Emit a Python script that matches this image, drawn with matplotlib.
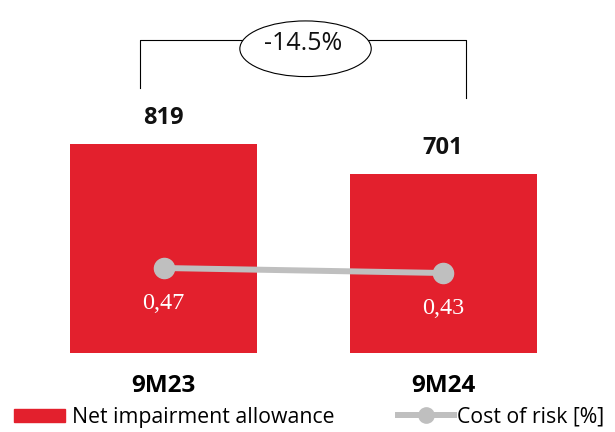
import numpy as np
import matplotlib.pyplot as plt
from matplotlib.patches import Ellipse, Patch
from matplotlib.lines import Line2D

periods = ['9M23', '9M24']
allowance = [819, 701]        # net impairment allowance
cost_of_risk = [0.47, 0.43]   # cost of risk [%]
change_label = '-14.5%'

RED = '#E3202D'
GRAY = '#BFBFBF'
SANS = 'Open Sans'

fig = plt.figure(figsize=(6.15, 4.32), dpi=100)
ax = fig.add_axes([0, 79 / 432, 1, 353 / 432])
x = np.arange(len(periods))

ax.bar(x, allowance, width=0.669, color=RED, zorder=1)
ax.set_xlim(-0.585, 1.615)
ax.set_ylim(0, 1383)
for s in ax.spines.values():
    s.set_visible(False)
ax.set_yticks([])
ax.set_xticks(x)
ax.set_xticklabels(periods, fontsize=17.5, fontweight='bold', family=SANS)
ax.tick_params(axis='x', length=0, pad=15)

for xi, v in zip(x, allowance):
    ax.annotate(str(v), (xi, v), xytext=(0, 18.5), textcoords='offset points',
                ha='center', va='center', fontsize=17, fontweight='bold',
                family=SANS, color='#111111')

# bracket with the change bubble
top = 1226
ax.plot([x[0] - 0.084, x[0] - 0.084, x[1] + 0.082, x[1] + 0.082],
        [allowance[0] + 219, top, top, allowance[1] + 298],
        color='black', lw=0.8, zorder=2)
ax.add_patch(Ellipse((0.508, 1192), 0.47, 218, facecolor='white',
                     edgecolor='black', lw=0.8, zorder=3))
ax.text(0.5, 1213, change_label, ha='center', va='center', fontsize=18,
        family=SANS, color='#111111', zorder=4)

ax2 = ax.twinx()
ax2.set_ylim(-0.21, 2.614)
ax2.axis('off')
ax2.plot(x, cost_of_risk, color=GRAY, lw=4.3, marker='o', ms=14.5,
         solid_capstyle='butt', zorder=5)
for xi, v in zip(x, cost_of_risk):
    ax2.annotate(f'{v:.2f}'.replace('.', ','), (xi, v), xytext=(0, -25.5),
                 textcoords='offset points', ha='center', va='center',
                 fontsize=17.5, family='Liberation Serif', color='white')

fig.legend(handles=[Patch(color=RED, label='Net impairment allowance')],
           loc='lower left', bbox_to_anchor=(10 / 615, 0.0),
           frameon=False, handlelength=2.4, handleheight=0.55,
           handletextpad=0.3, borderpad=0.2, borderaxespad=0,
           prop={'family': SANS, 'size': 15.3})
fig.legend(handles=[Line2D([], [], color=GRAY, lw=4.3, marker='o', ms=11,
                           label='Cost of risk [%]')],
           loc='lower left', bbox_to_anchor=(394 / 615, 0.0),
           frameon=False, handlelength=2.6, handletextpad=0.15,
           borderpad=0.2, borderaxespad=0,
           prop={'family': SANS, 'size': 15.3})

fig.savefig('out.png', dpi=100)
